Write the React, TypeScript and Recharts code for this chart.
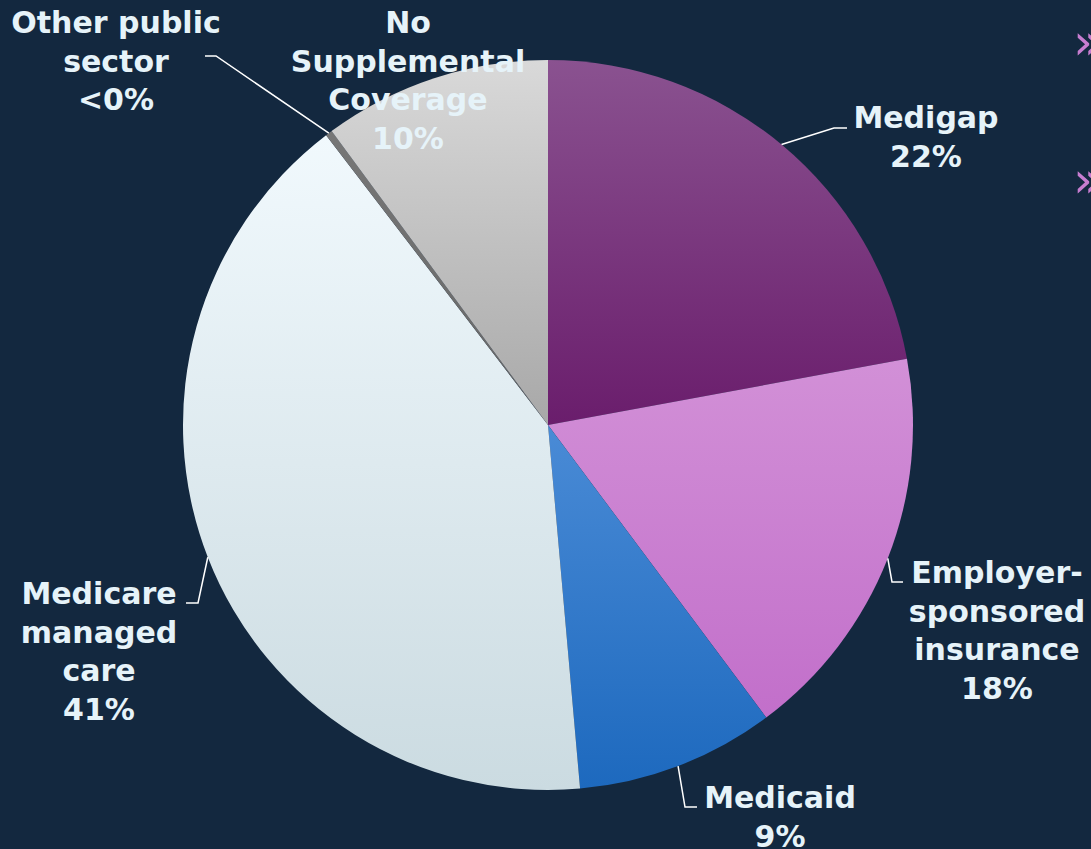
import { PieChart, Pie, Cell } from 'recharts'

const categories = ['Medigap', 'Employer-sponsored insurance', 'Medicaid', 'Medicare managed care', 'Other public sector', 'No Supplemental Coverage']
const shares = [22.1, 17.7, 8.8, 41.0, 0.3, 10.1]
const labelLines = [
  ['Medigap', '22%'],
  ['Employer-', 'sponsored', 'insurance', '18%'],
  ['Medicaid', '9%'],
  ['Medicare', 'managed', 'care', '41%'],
  ['Other public', 'sector', '<0%'],
  ['No', 'Supplemental', 'Coverage', '10%'],
]

const gradients = [
  ['#8a5290', '#6a1d6c'],
  ['#d290d7', '#c26fca'],
  ['#4a8bd6', '#1d69be'],
  ['#f1f9fd', '#cbdbe1'],
  ['#777777', '#666666'],
  ['#d9d9d9', '#a8a8a8'],
]

// text block: center x, first baseline; leader: elbow + end (null = no leader)
const layout: { x: number; y: number; elbow: number[] | null; end: number[] | null }[] = [
  { x: 926, y: 128, elbow: [834, 128], end: [847, 128] },
  { x: 997, y: 583, elbow: [892, 582], end: [903, 582] },
  { x: 780, y: 808, elbow: [685, 807], end: [697, 807] },
  { x: 99, y: 604, elbow: [198, 603], end: [186, 603] },
  { x: 116, y: 33, elbow: [216, 56], end: [205, 56] },
  { x: 408, y: 33, elbow: null, end: null },
]

const data = categories.map((name, i) => ({ name, value: shares[i] }))
const RADIAN = Math.PI / 180
const LINE_H = 38.5

function SliceLabel(props: any) {
  const { cx, cy, midAngle, outerRadius, index } = props
  const pos = layout[index]
  const ex = cx + outerRadius * Math.cos(-midAngle * RADIAN)
  const ey = cy + outerRadius * Math.sin(-midAngle * RADIAN)
  return (
    <g>
      {pos.elbow && pos.end && (
        <polyline
          points={`${ex},${ey} ${pos.elbow[0]},${pos.elbow[1]} ${pos.end[0]},${pos.end[1]}`}
          fill="none"
          stroke="#ffffff"
          strokeWidth={1.5}
        />
      )}
      <text
        x={pos.x}
        y={pos.y}
        textAnchor="middle"
        fill="#e6f3f9"
        fontFamily="'DejaVu Sans', Verdana, sans-serif"
        fontWeight="bold"
        fontSize={30}
      >
        {labelLines[index].map((line, i) => (
          <tspan key={i} x={pos.x} y={pos.y + i * LINE_H}>
            {line}
          </tspan>
        ))}
      </text>
    </g>
  )
}

export default function App() {
  return (
    <div
      style={{
        position: 'absolute',
        left: 0,
        top: 0,
        width: 1091,
        height: 849,
        background: '#13283f',
        overflow: 'hidden',
      }}
    >
      <PieChart width={1091} height={849} margin={{ top: 0, right: 0, bottom: 0, left: 0 }}>
        <defs>
          {gradients.map((g, i) => (
            <linearGradient key={i} id={`slice-${i}`} x1="0" y1="0" x2="0" y2="1">
              <stop offset="0%" stopColor={g[0]} />
              <stop offset="100%" stopColor={g[1]} />
            </linearGradient>
          ))}
        </defs>
        <Pie
          data={data}
          dataKey="value"
          nameKey="name"
          cx={548}
          cy={425}
          outerRadius={365}
          startAngle={90}
          endAngle={-270}
          stroke="none"
          label={SliceLabel}
          labelLine={false}
          isAnimationActive={false}
        >
          {data.map((_, i) => (
            <Cell key={i} fill={`url(#slice-${i})`} />
          ))}
        </Pie>
      </PieChart>
      {[14, 152].map((top) => (
        <div
          key={top}
          style={{
            position: 'absolute',
            left: 1073,
            top,
            color: '#c77dd0',
            fontFamily: "'DejaVu Sans', sans-serif",
            fontSize: 50,
            lineHeight: '56px',
          }}
        >
          »
        </div>
      ))}
    </div>
  )
}
